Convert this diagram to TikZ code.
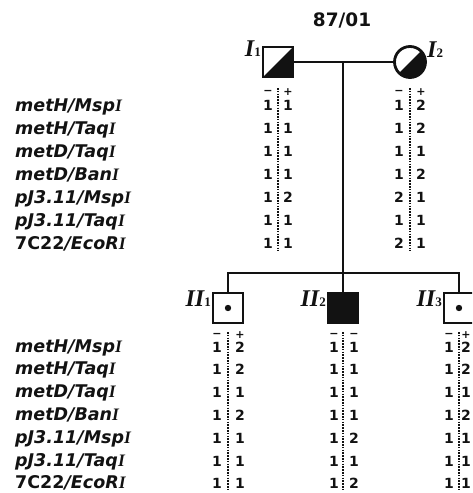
\documentclass[tikz,border=0pt]{standalone}
\usepackage{fontspec}
\usepackage{graphicx}
\usepackage{tikz}
\usetikzlibrary{positioning,calc}
\setsansfont{DejaVu Sans}[BoldItalicFont={DejaVu Sans Bold Oblique},ItalicFont={DejaVu Sans Oblique}]
\newfontfamily\pedserif{Liberation Serif}
\definecolor{pdink}{RGB}{18,18,18}
\newcommand{\indiv}[2]{{\pedserif\bfseries\itshape #1}{\pedserif\bfseries\fontsize{13}{13}\selectfont #2}}
\newcommand{\enz}[1]{{\pedserif\bfseries\itshape #1}}
\newcommand{\markerlist}{metH/Msp\enz{I}, metH/Taq\enz{I}, metD/Taq\enz{I}, metD/Ban\enz{I},
  pJ3.11/Msp\enz{I}, pJ3.11/Taq\enz{I}, {\upshape 7C22}/EcoR\enz{I}}
\tikzset{
  pdbox/.style={
    draw=pdink, line width=2.8pt, minimum size=30pt, inner sep=0pt, fill=white
  },
  male/.style={pdbox, rectangle},
  female/.style={pdbox, circle, minimum size=31pt},
  halfaff/.style={path picture={
    \fill[pdink] (path picture bounding box.south west) -- (path picture bounding box.south east)
      -- (path picture bounding box.north east) -- cycle;}},
  aff/.style={fill=pdink},
  carrier/.style={path picture={\fill[pdink] (path picture bounding box.center) circle (3.2pt);}},
  line/.style={draw=pdink, line width=2.1pt},
  sep/.style={draw=pdink, line width=2pt, dash pattern=on 1.6pt off 1.2pt},
  idlbl/.style={font=\fontsize{24}{24}\selectfont, inner sep=0pt, text=pdink},
  marker/.style={font=\sffamily\bfseries\itshape\fontsize{17.5}{17.5}\selectfont,
    anchor=base west, inner sep=0pt, text=pdink},
  allele/.style={font=\sffamily\bfseries\fontsize{14}{14}\selectfont, anchor=base, inner sep=0pt, text=pdink},
  sgn/.style={font=\sffamily\bfseries\fontsize{11}{11}\selectfont, inner sep=0pt, text=pdink},
  ttl/.style={font=\sffamily\bfseries\fontsize{18.5}{18.5}\selectfont, inner sep=0pt, text=pdink}
}
\begin{document}
\begin{tikzpicture}[x=1pt, y=-1pt]
  \useasboundingbox (0,0) rectangle (472,493);
  \clip (0,0) rectangle (472,493);
  \node[ttl] (fam) at (342,20) {87/01};
  % generation I
  \node[male, halfaff] (i1) at (278,62) {};
  \node[female, halfaff] (i2) at (410,62) {};
  \node[idlbl, anchor=base east] (i1lbl) at (261,56) {\indiv{I}{1}};
  \node[idlbl, anchor=base west] (i2lbl) at (427,57) {\indiv{I}{2}};
  \coordinate (mate) at (343,62);
  \draw[line] (i1) -- (i2);
  % generation II
  \node[male, carrier] (ii1) at (228,308) {};
  \node[male, aff] (ii2) at (343,308) {};
  \node[male, carrier] (ii3) at (459,308) {};
  \node[idlbl, anchor=base east] (ii1lbl) at (211,306) {\indiv{II}{1}};
  \node[idlbl, anchor=base east] (ii2lbl) at (326,306) {\indiv{II}{2}};
  \node[idlbl, anchor=base east] (ii3lbl) at (442,306) {\indiv{II}{3}};
  \coordinate (sib) at (343,273);
  \draw[line] (mate) -- (sib);
  \draw[line] (ii1.north) |- (sib) -| (ii3.north);
  \draw[line] (sib) -- (ii2);
  % marker names
  \foreach \m [count=\r from 0] in \markerlist {
    \node[marker] (up\r) at (15,{111+23*\r}) {\m};
    \node[marker] (lo\r) at (15,{352+22.8*\r}) {\m};
  }
  % haplotypes, generation I
  \coordinate (upTop) at (0,88);
  \coordinate (upBot) at (0,251);
  \draw[sep] (i1 |- upTop) -- (i1 |- upBot);
  \draw[sep] (i2 |- upTop) -- (i2 |- upBot);
  \node[sgn] (i1s1) at (268,92) {−};
  \node[sgn] (i1s2) at (288,92) {+};
  \node[sgn] (i2s1) at (399,92) {−};
  \node[sgn] (i2s2) at (421,92) {+};
  \foreach \a/\b [count=\r from 0] in {1/1,1/1,1/1,1/1,1/2,1/1,1/1} {
    \node[allele] (i1m\r) at (268,{110+23*\r}) {\a};
    \node[allele] (i1p\r) at (288,{110+23*\r}) {\b};
  }
  \foreach \a/\b [count=\r from 0] in {1/2,1/2,1/1,1/2,2/1,1/1,2/1} {
    \node[allele] (i2m\r) at (399,{110+23*\r}) {\a};
    \node[allele] (i2p\r) at (421,{110+23*\r}) {\b};
  }
  % haplotypes, generation II
  \coordinate (loTop) at (0,332);
  \coordinate (loBot) at (0,489);
  \draw[sep] (ii1 |- loTop) -- (ii1 |- loBot);
  \draw[sep] (ii2 |- loTop) -- (ii2 |- loBot);
  \draw[sep] (ii3 |- loTop) -- (ii3 |- loBot);
  \node[sgn] (ii1s1) at (217,335) {−};
  \node[sgn] (ii1s2) at (240,335) {+};
  \node[sgn] (ii2s1) at (334,335) {−};
  \node[sgn] (ii2s2) at (354,335) {−};
  \node[sgn] (ii3s1) at (449,335) {−};
  \node[sgn] (ii3s2) at (466,335) {+};
  \foreach \a/\b [count=\r from 0] in {1/2,1/2,1/1,1/2,1/1,1/1,1/1} {
    \node[allele] (ii1m\r) at (217,{352+22.8*\r}) {\a};
    \node[allele] (ii1p\r) at (240,{352+22.8*\r}) {\b};
  }
  \foreach \a/\b [count=\r from 0] in {1/1,1/1,1/1,1/1,1/2,1/1,1/2} {
    \node[allele] (ii2m\r) at (334,{352+22.8*\r}) {\a};
    \node[allele] (ii2p\r) at (354,{352+22.8*\r}) {\b};
  }
  \foreach \a/\b [count=\r from 0] in {1/2,1/2,1/1,1/2,1/1,1/1,1/1} {
    \node[allele] (ii3m\r) at (449,{352+22.8*\r}) {\a};
    \node[allele] (ii3p\r) at (466,{352+22.8*\r}) {\b};
  }
\end{tikzpicture}
\end{document}
